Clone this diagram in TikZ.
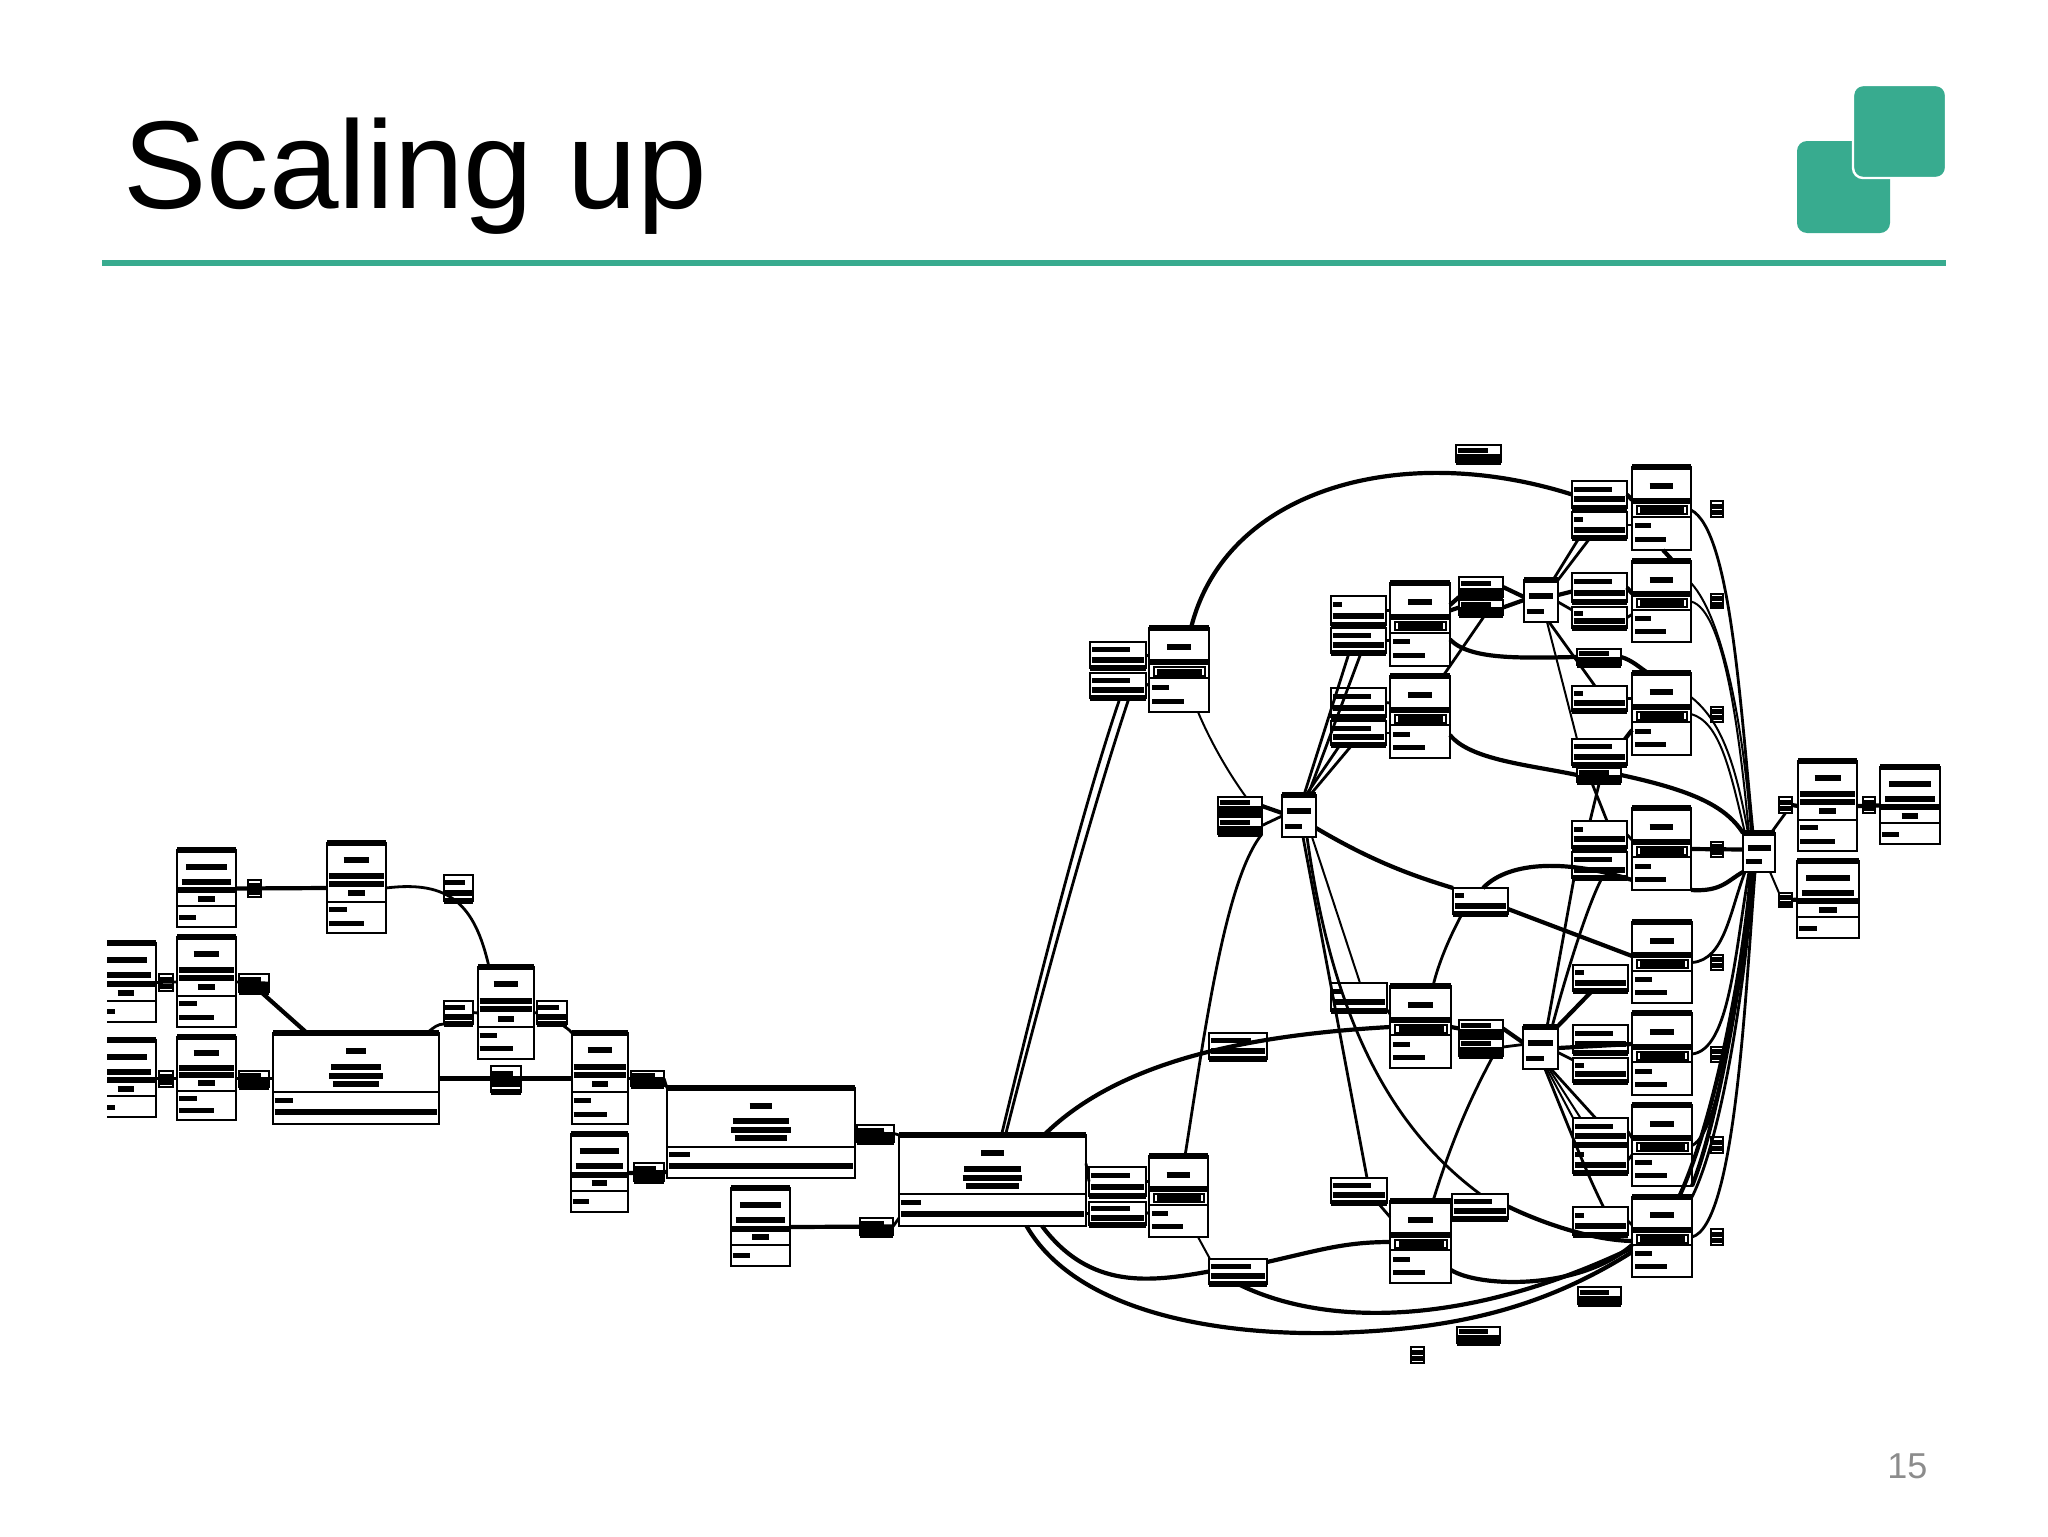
\documentclass[tikz,border=0pt]{standalone}
\usepackage{fontspec}
\usepackage{xcolor}
\setmainfont{Liberation Sans}
\definecolor{slidegreen}{HTML}{38AB8F}
\definecolor{pagegrey}{HTML}{8C8C8C}
\tikzset{
  opnode/.style={draw=black,line width=1.4pt,inner sep=0pt,outer sep=0pt},
  topedge/.style={line width=2.6pt},
  tbar/.style={line width=3pt},
  lbar/.style={line width=2.5pt},
  sepline/.style={line width=1pt},
  wire/.style={line width=2.1pt},
  midwire/.style={line width=1.4pt},
  thinwire/.style={line width=1pt},
  titletext/.style={font={\fontsize{62.5}{70}\selectfont},inner sep=0pt,anchor=base west},
  pagetext/.style={font={\fontsize{18}{20}\selectfont},text=pagegrey,inner sep=0pt,anchor=base west}
}
\newcommand{\boxnode}[5]{\node[opnode,minimum width={(#4-#2)*.5pt},minimum height={(#5-#3)*.5pt}] (#1) at ({(#2+#4)/2},{(#3+#5)/2}) {};}
\newcommand{\inbox}[5]{\begin{scope}[shift={(#1,#2)},x={({(#3-#1)*.5pt},0pt)},y={(0pt,{-(#4-#2)*.5pt})}]#5\end{scope}}
\newcommand{\opbox}[5]{\boxnode{#1}{#2}{#3}{#4}{#5}\inbox{#2}{#3}{#4}{#5}{%
  \draw[topedge] (0,0) -- (1,0);
  \draw[tbar] (.3,.23) -- (.7,.23);
  \draw[tbar] (.02,.41) -- (.98,.41);
  \draw[sepline] (.08,.47) rectangle (.94,.57);
  \draw[tbar] (.14,.52) -- (.88,.52);
  \draw[sepline] (0,.6) -- (1,.6);
  \draw[lbar] (.05,.71) -- (.33,.71);
  \draw[lbar] (.05,.87) -- (.58,.87);}}
\newcommand{\tribox}[5]{\boxnode{#1}{#2}{#3}{#4}{#5}\inbox{#2}{#3}{#4}{#5}{%
  \draw[topedge] (0,0) -- (1,0);
  \draw[tbar] (.28,.19) -- (.72,.19);
  \draw[tbar] (.03,.37) -- (.97,.37);
  \draw[tbar] (.03,.46) -- (.97,.46);
  \draw[tbar] (.36,.56) -- (.64,.56);
  \draw[sepline] (0,.65) -- (1,.65);
  \draw[lbar] (.03,.74) -- (.34,.74);
  \draw[lbar] (.03,.89) -- (.62,.89);}}
\newcommand{\datbox}[5]{\boxnode{#1}{#2}{#3}{#4}{#5}\inbox{#2}{#3}{#4}{#5}{%
  \draw[topedge] (0,0) -- (1,0);
  \draw[tbar] (.15,.22) -- (.85,.22);
  \draw[tbar] (.08,.41) -- (.92,.41);
  \draw[tbar] (.02,.52) -- (.98,.52);
  \draw[tbar] (.36,.63) -- (.64,.63);
  \draw[sepline] (0,.73) -- (1,.73);
  \draw[lbar] (.03,.87) -- (.32,.87);}}
\newcommand{\bigbox}[5]{\boxnode{#1}{#2}{#3}{#4}{#5}\inbox{#2}{#3}{#4}{#5}{%
  \draw[topedge] (0,0) -- (1,0);
  \draw[tbar] (.44,.2) -- (.56,.2);
  \draw[tbar] (.35,.37) -- (.65,.37);
  \draw[tbar] (.34,.47) -- (.66,.47);
  \draw[tbar] (.36,.56) -- (.64,.56);
  \draw[sepline] (0,.65) -- (1,.65);
  \draw[lbar] (.01,.74) -- (.12,.74);
  \draw[tbar] (.01,.87) -- (.99,.87);}}
\newcommand{\labbox}[6][.72]{\boxnode{#2}{#3}{#4}{#5}{#6}\inbox{#3}{#4}{#5}{#6}{%
  \draw[lbar] (.04,.3) -- (#1,.3);
  \draw[tbar] (.03,.68) -- (.97,.68);
  \draw[topedge] (0,1) -- (1,1);}}
\newcommand{\tinybox}[5]{\boxnode{#1}{#2}{#3}{#4}{#5}\inbox{#2}{#3}{#4}{#5}{%
  \draw[lbar] (.05,.33) -- (.95,.33);
  \draw[lbar] (.05,.72) -- (.95,.72);}}
\newcommand{\modbox}[5]{\boxnode{#1}{#2}{#3}{#4}{#5}\inbox{#2}{#3}{#4}{#5}{%
  \draw[topedge] (0,0) -- (1,0);
  \draw[tbar] (.14,.38) -- (.86,.38);
  \draw[lbar] (.08,.74) -- (.6,.74);}}
\begin{document}
\begin{tikzpicture}[x=.5pt,y=-.5pt]
\useasboundingbox (0,0) rectangle (2048,1536);
\node[titletext] (title) at (123,208) {Scaling up};
\node[pagetext] (pagenum) at (1887,1478) {15};
\fill[slidegreen] (102,260) rectangle (1946,266);
\fill[slidegreen,rounded corners=5pt] (1797,141) rectangle (1890,233);
\filldraw[fill=slidegreen,draw=white,line width=1.2pt,rounded corners=5pt] (1853,85) rectangle (1946,178);
\datbox{A1}{177}{850}{236}{927}
\tribox{B1}{327}{843}{386}{933}
\tinybox{sa1}{248}{880}{261}{897}
\labbox{la1}{444}{875}{473}{901}
\begin{scope}
\clip (107,930) rectangle (170,1130);
\datbox{A2}{96}{943}{156}{1022}
\datbox{A3}{96}{1040}{156}{1117}
\end{scope}
\tribox{B2}{177}{937}{236}{1027}
\tribox{B3}{177}{1037}{236}{1120}
\tinybox{sa2}{159}{974}{173}{991}
\tinybox{sa3}{159}{1071}{173}{1087}
\labbox{la2}{239}{974}{269}{992}
\labbox{la3}{239}{1071}{269}{1087}
\bigbox{C}{273}{1033}{439}{1124}
\labbox{la4}{444}{1001}{473}{1024}
\tribox{D}{478}{967}{534}{1059}
\labbox{la5}{537}{1001}{567}{1024}
\labbox{la6}{491}{1066}{521}{1092}
\tribox{E}{572}{1033}{628}{1124}
\datbox{F}{571}{1134}{628}{1212}
\labbox{la7}{631}{1071}{664}{1086}
\labbox{la8}{634}{1163}{664}{1181}
\bigbox{G}{667}{1088}{855}{1178}
\labbox{la9}{857}{1125}{894}{1142}
\datbox{I}{731}{1188}{790}{1266}
\labbox{la10}{860}{1218}{893}{1235}
\bigbox{H}{899}{1135}{1086}{1226}
\labbox{la11}{1089}{1167}{1146}{1196}
\labbox{la12}{1089}{1202}{1146}{1225}
\opbox{J}{1149}{1156}{1208}{1237}
\labbox{la13}{1209}{1033}{1267}{1059}
\labbox{la14}{1209}{1259}{1267}{1284}
\opbox{J2}{1149}{628}{1209}{712}
\labbox{r1}{1090}{642}{1146}{668}
\labbox{r2}{1090}{673}{1146}{698}
\labbox{s1}{1218}{797}{1262}{815}
\labbox{s2}{1218}{817}{1262}{834}
\modbox{N2}{1282}{795}{1316}{837}
\labbox[.2]{q1}{1331}{596}{1386}{625}
\labbox{q2}{1331}{628}{1386}{653}
\labbox{q3}{1331}{688}{1386}{717}
\labbox{q4}{1331}{721}{1386}{745}
\labbox[.2]{q5}{1331}{983}{1387}{1011}
\labbox{q6}{1331}{1178}{1387}{1203}
\opbox{P1}{1390}{583}{1450}{666}
\opbox{P2}{1390}{676}{1450}{758}
\opbox{P3}{1390}{986}{1451}{1068}
\opbox{P4}{1390}{1201}{1451}{1283}
\labbox{n1}{1459}{577}{1503}{597}
\labbox{n2}{1459}{600}{1503}{615}
\labbox{w1}{1459}{1020}{1503}{1037}
\labbox{w2}{1459}{1038}{1503}{1056}
\labbox[.2]{u1}{1453}{888}{1508}{914}
\labbox{u2}{1452}{1194}{1508}{1219}
\modbox{N1}{1524}{580}{1558}{622}
\modbox{N4}{1523}{1027}{1558}{1069}
\labbox{top1}{1456}{445}{1501}{462}
\labbox{m1}{1572}{481}{1627}{508}
\labbox[.2]{m2}{1572}{512}{1627}{538}
\labbox{m3}{1572}{573}{1627}{602}
\labbox[.2]{m4}{1572}{607}{1627}{628}
\labbox{t1}{1577}{649}{1621}{665}
\labbox[.2]{m5}{1572}{686}{1627}{711}
\labbox{m6}{1572}{739}{1627}{765}
\labbox{t2}{1577}{768}{1621}{782}
\labbox[.2]{m7}{1572}{821}{1627}{848}
\labbox{m8}{1572}{852}{1627}{878}
\labbox[.2]{v1}{1573}{965}{1628}{991}
\labbox{v2}{1573}{1025}{1628}{1053}
\labbox[.2]{v3}{1573}{1058}{1628}{1082}
\labbox{v4}{1573}{1118}{1628}{1145}
\labbox[.2]{v5}{1573}{1147}{1628}{1173}
\labbox[.2]{v6}{1573}{1207}{1628}{1235}
\labbox{z1}{1578}{1287}{1621}{1304}
\labbox{z2}{1457}{1327}{1500}{1343}
\tinybox{z3}{1411}{1347}{1424}{1363}
\opbox{L1}{1632}{467}{1691}{550}
\opbox{L2}{1632}{561}{1691}{642}
\opbox{L3}{1632}{673}{1691}{755}
\opbox{L4}{1632}{808}{1691}{890}
\opbox{L5}{1632}{922}{1692}{1003}
\opbox{L6}{1632}{1013}{1692}{1095}
\opbox{L7}{1632}{1105}{1692}{1186}
\opbox{L8}{1632}{1197}{1692}{1277}
\tinybox{e1}{1711}{501}{1723}{517}
\tinybox{e2}{1711}{594}{1723}{608}
\tinybox{e3}{1711}{707}{1723}{722}
\tinybox{e4}{1711}{842}{1723}{857}
\tinybox{e5}{1711}{955}{1723}{970}
\tinybox{e6}{1711}{1047}{1723}{1062}
\tinybox{e7}{1711}{1137}{1723}{1153}
\tinybox{e8}{1711}{1229}{1723}{1245}
\modbox{N3}{1743}{833}{1775}{872}
\tinybox{rs1}{1779}{797}{1792}{813}
\tinybox{rs2}{1863}{797}{1875}{813}
\tinybox{rs3}{1779}{893}{1792}{907}
\tribox{R1}{1798}{761}{1857}{851}
\datbox{R2}{1880}{767}{1940}{844}
\datbox{R3}{1797}{861}{1859}{938}
\draw[wire] (A1.east) -- (B1.west);
\draw[midwire] (B1.east) .. controls (450,880) and (475,905) .. ([xshift=-8.5pt]D.north);
\draw[midwire] (A2.east) -- (B2.west);
\draw[midwire] (B2.east) -- (la2.east);
\draw[wire] ([xshift=3.5pt]la2.south) -- ([xshift=-24.5pt]C.north);
\draw[midwire] (A3.east) -- (B3.west);
\draw[midwire] (B3.east) -- (C.west);
\draw[midwire] ([xshift=35.5pt]C.north) .. controls (434,1027) and (438,1024) .. (la4.south west);
\draw[midwire] (la4.east) -- (D.west);
\draw[midwire] (D.east) -- (la5.west);
\draw[midwire] ([xshift=4.5pt]la5.south) .. controls (565,1027) and (570,1030) .. (E.north west);
\draw[wire] (C.east) -- (E.west);
\draw[midwire] (E.east) -- (la7.east);
\draw[midwire] (la7.east) -- (G.north west);
\draw[wire] (F.east) -- ([yshift=3pt]G.south west);
\draw[midwire] (G.east) -- (la9.east);
\draw[midwire] (la9.east) -- (H.north west);
\draw[wire] (I.east) -- (la10.east);
\draw[midwire] (la10.east) -- ([yshift=4pt]H.south west);
\draw[midwire] ([xshift=4.5pt]H.north) .. controls (1040,975) and (1085,800) .. ([xshift=1pt]r2.south);
\draw[midwire] ([xshift=6.5pt]H.north) .. controls (1046,975) and (1095,800) .. ([xshift=5.5pt]r2.south);
\draw[wire] ([xshift=25.75pt]H.north) .. controls (1120,1060) and (1250,1035) .. (P3.west);
\draw[midwire] ([yshift=8.5pt]H.east) -- (la11.west);
\draw[midwire] ([yshift=-16.5pt]H.east) -- (la12.west);
\draw[midwire] (la11.east) -- ([yshift=7.5pt]J.west);
\draw[midwire] (la12.east) -- ([yshift=-8pt]J.west);
\draw[midwire] (r1.east) -- ([yshift=7pt]J2.west);
\draw[midwire] (r2.east) -- ([yshift=-7pt]J2.west);
\draw[wire] ([xshift=6pt]J2.north) .. controls (1225,490) and (1400,440) .. (m1.west);
\draw[wire] (m1.east) -- ([yshift=4.25pt]L1.west);
\draw[thinwire] ([xshift=9.5pt]J2.south) .. controls (1212,745) and (1230,775) .. ([xshift=3pt]s1.north);
\draw[wire] (s1.east) -- ([yshift=1.5pt]N2.west);
\draw[midwire] (s2.east) -- (N2.west);
\draw[midwire] ([xshift=3.25pt]J.north) .. controls (1205,1030) and (1225,880) .. (s2.south east);
\draw[midwire] ([xshift=2.5pt]N2.north) -- ([xshift=-4.75pt]q2.south);
\draw[midwire] ([xshift=4.5pt]N2.north) -- ([xshift=1.25pt]q2.south);
\draw[midwire] ([xshift=3.5pt]N2.north) -- ([xshift=-9.25pt]q4.south);
\draw[midwire] ([xshift=5.5pt]N2.north) -- ([xshift=-3.25pt]q4.south);
\draw[midwire] (q1.east) -- ([yshift=7pt]P1.west);
\draw[midwire] (q2.east) -- ([yshift=-8pt]P1.west);
\draw[midwire] (q3.east) -- ([yshift=7pt]P2.west);
\draw[midwire] (q4.east) -- ([yshift=-8pt]P2.west);
\draw[wire] ([yshift=9.75pt]P1.east) -- (n1.south west);
\draw[wire] ([yshift=7pt]P1.east) -- (n2.west);
\draw[wire] (n1.east) -- ([yshift=2pt]N1.west);
\draw[wire] (n2.east) -- ([yshift=.5pt]N1.west);
\draw[midwire] ([xshift=11.5pt]P2.north) -- ([xshift=2pt]n2.south);
\draw[wire] ([yshift=-7.5pt]P1.east) .. controls (1470,660) and (1520,658) .. (t1.west);
\draw[wire] (t1.east) .. controls (1632,660) and (1640,668) .. ([xshift=-6.75pt]L3.north);
\draw[wire] ([yshift=-9pt]P2.east) .. controls (1470,760) and (1530,765) .. (t2.west);
\draw[wire] (t2.east) .. controls (1690,790) and (1725,805) .. (N3.north west);
\draw[midwire] ([xshift=6pt]N1.north) -- ([xshift=-10.25pt]m2.south);
\draw[midwire] ([xshift=8.5pt]N1.north) -- ([xshift=-4.75pt]m2.south);
\draw[wire] ([yshift=3pt]N1.east) -- ([yshift=-2pt]m3.west);
\draw[midwire] ([yshift=-.5pt]N1.east) -- ([yshift=3.75pt]m4.west);
\draw[wire] (m3.east) -- ([yshift=4pt]L2.west);
\draw[midwire] (m4.east) -- ([yshift=-6.5pt]L2.west);
\draw[midwire] ([xshift=4pt]N1.south) -- ([xshift=-2.25pt]m5.north);
\draw[thinwire] ([xshift=3pt]N1.south) -- ([xshift=-11.25pt]m6.north);
\draw[midwire] (m5.east) -- ([yshift=7.75pt]L3.west);
\draw[wire] ([xshift=-1pt]m6.north east) -- ([yshift=12.5pt]L3.south west);
\draw[midwire] ([xshift=.25pt]t2.south) -- ([xshift=-4.75pt]m7.north);
\draw[midwire] ([xshift=-3.75pt]t2.south) -- ([xshift=3.75pt]m7.north);
\draw[midwire] (m7.east) -- ([yshift=4.5pt]L4.west);
\draw[wire] ([yshift=-6pt]N2.east) .. controls (1370,860) and (1410,875) .. (u1.north west);
\draw[wire] ([xshift=1.25pt]u1.north) .. controls (1510,860) and (1570,860) .. ([yshift=-15.5pt]L4.west);
\draw[wire] ([yshift=-4pt]u1.east) -- ([yshift=3.25pt]L5.west);
\draw[midwire] ([xshift=-9.25pt]u1.south) .. controls (1448,940) and (1438,965) .. ([xshift=6.25pt]P3.north);
\draw[thinwire] ([xshift=6.5pt]N2.south) -- ([xshift=.5pt]q5.north);
\draw[midwire] ([xshift=2pt]N2.south) -- ([xshift=4pt]q6.north);
\draw[midwire] ([xshift=4pt]N2.south) .. controls (1330,1000) and (1380,1120) .. (u2.north);
\draw[midwire] ([yshift=-6.5pt]q5.east) -- ([yshift=6.5pt]P3.west);
\draw[wire] (P3.east) -- (w1.west);
\draw[wire] (w1.east) -- ([yshift=2.75pt]N4.west);
\draw[midwire] (w2.east) -- ([yshift=1.75pt]N4.west);
\draw[midwire] ([xshift=6.25pt]P4.north) .. controls (1455,1130) and (1475,1090) .. ([xshift=6pt]w2.south);
\draw[wire] ([xshift=24.75pt]H.south) .. controls (1090,1290) and (1150,1282) .. (la14.west);
\draw[wire] ([yshift=4.75pt]la14.east) .. controls (1320,1250) and (1345,1242) .. (P4.west);
\draw[wire] ([xshift=17pt]H.south) .. controls (1075,1310) and (1210,1335) .. (1330,1333) .. controls (1450,1330) and (1540,1310) .. ([yshift=-7.5pt]L8.west);
\draw[wire] (la14.south) .. controls (1320,1325) and (1460,1330) .. ([yshift=-5.5pt]L8.west);
\draw[wire] ([yshift=-14pt]P4.east) .. controls (1480,1288) and (1580,1290) .. ([yshift=-4pt]L8.west);
\draw[wire] (u2.east) .. controls (1540,1222) and (1590,1240) .. ([yshift=-2pt]L8.west);
\draw[midwire] ([xshift=9.5pt]q6.south) -- ([yshift=12.5pt]P4.west);
\draw[thinwire] ([xshift=9.75pt]J.south) -- ([xshift=-14pt]la14.north);
\draw[midwire] ([yshift=-.75pt]L1.east) .. controls (1730,530) and (1740,700) .. ([xshift=-3pt]N3.north);
\draw[thinwire] ([yshift=9.25pt]L2.east) .. controls (1725,620) and (1745,740) .. ([xshift=-4pt]N3.north);
\draw[thinwire] (L2.east) .. controls (1725,610) and (1740,740) .. ([xshift=-5pt]N3.north);
\draw[thinwire] ([yshift=8.5pt]L3.east) .. controls (1720,720) and (1735,760) .. ([xshift=-5.5pt]N3.north);
\draw[thinwire] (L3.east) .. controls (1720,722) and (1730,770) .. ([xshift=-7pt]N3.north);
\draw[wire] (L4.east) -- ([yshift=1.5pt]N3.west);
\draw[wire] (L4.south east) .. controls (1722,892) and (1728,880) .. (N3.south west);
\draw[midwire] (L5.east) .. controls (1725,960) and (1730,910) .. ([xshift=-7pt]N3.south);
\draw[midwire] (L6.east) .. controls (1730,1050) and (1735,950) .. ([xshift=-5pt]N3.south);
\draw[midwire] (L7.east) .. controls (1725,1130) and (1740,950) .. ([xshift=-3pt]N3.south);
\draw[midwire] (L8.east) .. controls (1735,1225) and (1745,1000) .. ([xshift=-2pt]N3.south);
\draw[wire] ([xshift=8.5pt]L8.north) .. controls (1715,1120) and (1745,960) .. ([xshift=-4pt]N3.south);
\draw[midwire] (L8.north east) .. controls (1725,1130) and (1748,960) .. ([xshift=-3pt]N3.south);
\draw[wire] (L7.south east) .. controls (1722,1110) and (1745,950) .. ([xshift=-2.5pt]N3.south);
\draw[wire] ([xshift=.75pt]L1.south) -- ([xshift=5.75pt]L2.north);
\draw[midwire] ([yshift=-8.25pt]L1.west) -- (m2.east);
\draw[midwire] ([xshift=6pt]N3.north) -- (rs1.south);
\draw[wire] (rs1.east) -- (R1.west);
\draw[thinwire] ([xshift=5.5pt]N3.south) -- (rs3.north west);
\draw[wire] (rs3.east) -- (R3.west);
\draw[wire] (R1.east) -- (R2.west);
\draw[midwire] ([xshift=3.25pt]N4.north) -- ([xshift=-12.75pt]m8.south);
\draw[midwire] ([xshift=5.75pt]N4.north) .. controls (1570,960) and (1590,900) .. ([xshift=1.25pt]m8.south);
\draw[wire] ([xshift=8.25pt]N4.north) -- ([xshift=-4.25pt]v1.south);
\draw[wire] (N4.east) -- ([yshift=5pt]L6.west);
\draw[midwire] ([yshift=-2.25pt]N4.east) -- ([yshift=5pt]v3.west);
\draw[midwire] ([xshift=5.25pt]N4.south) -- ([xshift=-2.5pt]v4.north);
\draw[thinwire] ([xshift=4.25pt]N4.south) -- ([xshift=-10pt]v4.north);
\draw[thinwire] ([xshift=3.25pt]N4.south) -- (v4.north west);
\draw[midwire] ([xshift=2.25pt]N4.south) .. controls (1570,1130) and (1585,1170) .. ([xshift=1.5pt]v6.north);
\draw[midwire] (v4.east) -- ([yshift=3.75pt]L7.west);
\draw[midwire] (v5.east) -- ([yshift=-4.75pt]L7.west);
\draw[midwire] (v6.east) -- ([yshift=6pt]L8.west);
\end{tikzpicture}
\end{document}
